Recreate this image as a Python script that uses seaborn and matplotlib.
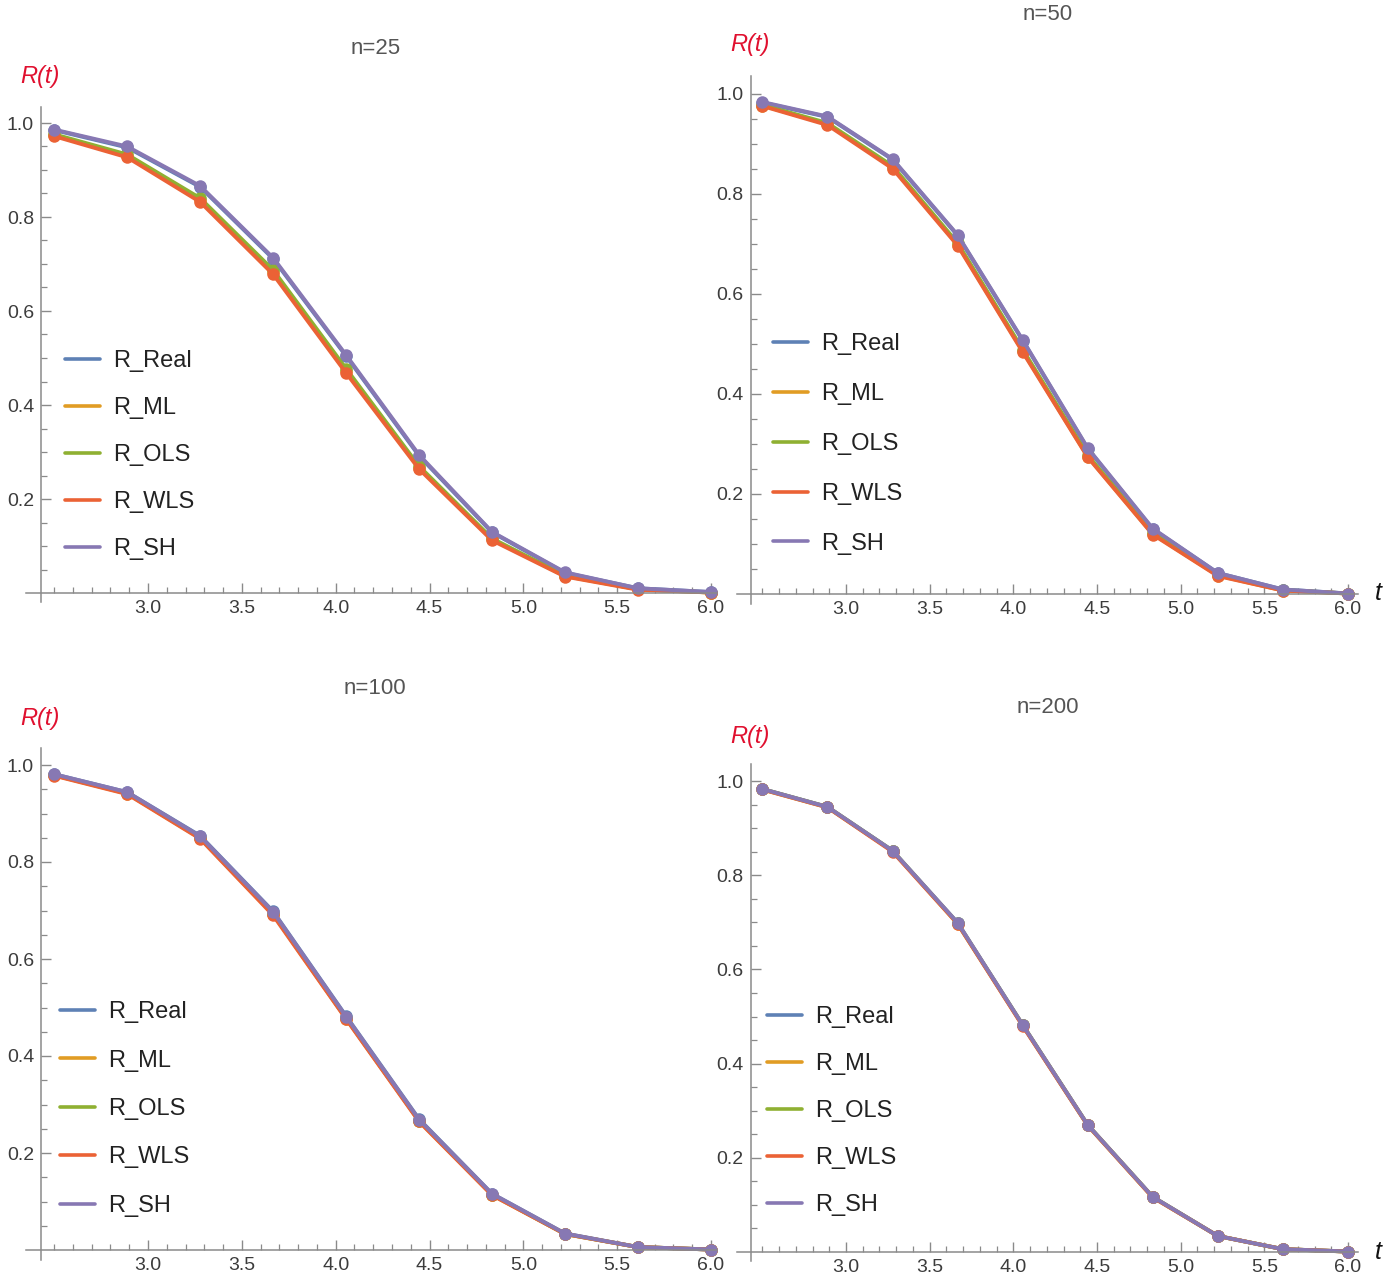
import matplotlib
matplotlib.use("Agg")
import numpy as np
import pandas as pd
import seaborn as sns
import matplotlib.pyplot as plt
from matplotlib.lines import Line2D
from matplotlib.ticker import FixedLocator

# ---------------- data ----------------
t_values = [2.5, 2.889, 3.278, 3.667, 4.056, 4.444, 4.833, 5.222, 5.611, 6.0]
series_names = ["R_Real", "R_ML", "R_OLS", "R_WLS", "R_SH"]
panel_titles = ["n=25", "n=50", "n=100", "n=200"]

real25 = [0.985, 0.948, 0.864, 0.711, 0.504, 0.292, 0.129, 0.043, 0.010, 0.002]
ml25   = [0.974, 0.930, 0.836, 0.683, 0.473, 0.267, 0.114, 0.036, 0.008, 0.001]
ols25  = [0.976, 0.933, 0.840, 0.687, 0.477, 0.270, 0.116, 0.037, 0.008, 0.001]
wls25  = [0.972, 0.927, 0.832, 0.678, 0.468, 0.264, 0.112, 0.035, 0.007, 0.001]
sh25   = [0.986, 0.950, 0.866, 0.713, 0.506, 0.294, 0.130, 0.044, 0.010, 0.002]

real50 = [0.983, 0.954, 0.869, 0.717, 0.507, 0.291, 0.130, 0.042, 0.009, 0.001]
ml50   = [0.977, 0.940, 0.853, 0.699, 0.486, 0.275, 0.120, 0.037, 0.007, 0.001]
ols50  = [0.978, 0.942, 0.856, 0.702, 0.489, 0.278, 0.122, 0.038, 0.008, 0.001]
wls50  = [0.976, 0.938, 0.851, 0.697, 0.484, 0.274, 0.119, 0.036, 0.007, 0.001]
sh50   = [0.984, 0.955, 0.870, 0.718, 0.508, 0.292, 0.131, 0.042, 0.009, 0.001]

real100 = [0.981, 0.944, 0.854, 0.698, 0.482, 0.270, 0.116, 0.034, 0.006, 0.001]
ml100   = [0.979, 0.941, 0.849, 0.692, 0.477, 0.266, 0.114, 0.033, 0.006, 0.001]
ols100  = [0.979, 0.942, 0.850, 0.693, 0.478, 0.267, 0.114, 0.033, 0.006, 0.001]
wls100  = [0.978, 0.940, 0.848, 0.690, 0.476, 0.265, 0.113, 0.033, 0.006, 0.001]
sh100   = [0.981, 0.944, 0.853, 0.697, 0.481, 0.269, 0.116, 0.034, 0.006, 0.001]

real200 = [0.983, 0.945, 0.852, 0.699, 0.482, 0.270, 0.117, 0.034, 0.006, 0.001]
ml200   = [0.982, 0.944, 0.851, 0.697, 0.481, 0.269, 0.116, 0.034, 0.006, 0.001]
ols200  = [0.983, 0.945, 0.852, 0.698, 0.482, 0.270, 0.117, 0.034, 0.006, 0.001]
wls200  = [0.982, 0.944, 0.850, 0.697, 0.480, 0.269, 0.116, 0.034, 0.006, 0.001]
sh200   = [0.983, 0.945, 0.852, 0.699, 0.482, 0.270, 0.117, 0.034, 0.006, 0.001]

panel_data = [
    [real25, ml25, ols25, wls25, sh25],
    [real50, ml50, ols50, wls50, sh50],
    [real100, ml100, ols100, wls100, sh100],
    [real200, ml200, ols200, wls200, sh200],
]

x_major = [3.0, 3.5, 4.0, 4.5, 5.0, 5.5, 6.0]
y_major = [0.2, 0.4, 0.6, 0.8, 1.0]

# ---------------- style ----------------
palette = {"R_Real": "#5E81B5", "R_ML": "#E19C24", "R_OLS": "#8FB032",
           "R_WLS": "#EB6235", "R_SH": "#8778B3"}

sns.set_theme(style="white")
plt.rcParams["font.family"] = ["Liberation Sans", "DejaVu Sans"]

W, H = 1391, 1283
fig = plt.figure(figsize=(W / 100, H / 100), dpi=100)

# layout: pixel anchors (x of t=3.0, x of t=6.0, y of R=0, y of R=1)
layouts = [
    dict(x3=148, x6=711, y0=593, y1=123, xlim=(2.35, 6.03), ylim=(-0.02, 1.035),
         title=(376, 48), rt=(40, 77), leg=(65, 455), pitch=1.06, t_lab=None),
    dict(x3=846, x6=1348, y0=594, y1=94, xlim=(2.35, 6.06), ylim=(-0.02, 1.036),
         title=(1048, 14), rt=(750, 45), leg=(773, 444), pitch=1.18, t_lab=(1378, 593)),
    dict(x3=148, x6=711, y0=1250, y1=765, xlim=(2.35, 6.03), ylim=(-0.02, 1.035),
         title=(375, 688), rt=(40, 718), leg=(60, 1109), pitch=1.12, t_lab=None),
    dict(x3=846, x6=1348, y0=1252, y1=781, xlim=(2.35, 6.06), ylim=(-0.02, 1.036),
         title=(1048, 707), rt=(750, 736), leg=(767, 1111), pitch=1.06, t_lab=(1378, 1252)),
]

axis_col = "#8a8a8a"
label_col = "#3c3c3c"

for i, (lay, vals) in enumerate(zip(layouts, panel_data)):
    sx = (lay["x6"] - lay["x3"]) / 3.0
    sy = (lay["y0"] - lay["y1"]) / 1.0
    left = lay["x3"] + (lay["xlim"][0] - 3.0) * sx
    right = lay["x3"] + (lay["xlim"][1] - 3.0) * sx
    top = lay["y0"] - lay["ylim"][1] * sy
    bottom = lay["y0"] - lay["ylim"][0] * sy
    ax = fig.add_axes([left / W, 1 - bottom / H, (right - left) / W, (bottom - top) / H])
    ax.patch.set_alpha(0)

    df = pd.DataFrame({
        "t": t_values * len(series_names),
        "R": [v for s in vals for v in s],
        "series": [n for n in series_names for _ in t_values],
    })
    sns.lineplot(data=df, x="t", y="R", hue="series", hue_order=series_names,
                 palette=palette, marker="o", markersize=9, markeredgewidth=0,
                 linewidth=2.8, estimator=None, sort=False, legend=False, ax=ax)
    for ln in ax.lines:
        ln.set_clip_on(False)
        ln.set_solid_joinstyle("round")

    ax.set_xlim(*lay["xlim"])
    ax.set_ylim(*lay["ylim"])
    ax.set_xlabel("")
    ax.set_ylabel("")

    for s in ["top", "right"]:
        ax.spines[s].set_visible(False)
    ax.spines["left"].set_position(("data", 2.43))
    ax.spines["bottom"].set_position(("data", 0.0))
    for s in ["left", "bottom"]:
        ax.spines[s].set_color(axis_col)
        ax.spines[s].set_linewidth(1.1)

    ax.xaxis.set_major_locator(FixedLocator(x_major))
    ax.xaxis.set_minor_locator(FixedLocator([round(2.5 + 0.1 * k, 2) for k in range(36)
                                             if round(2.5 + 0.1 * k, 2) not in x_major]))
    ax.yaxis.set_major_locator(FixedLocator(y_major))
    ax.yaxis.set_minor_locator(FixedLocator([0.05, 0.1, 0.15, 0.25, 0.3, 0.35, 0.45, 0.5,
                                             0.55, 0.65, 0.7, 0.75, 0.85, 0.9, 0.95]))
    ax.set_xticklabels([f"{v:.1f}" for v in x_major])
    ax.set_yticklabels([f"{v:.1f}" for v in y_major])
    ax.tick_params(axis="both", which="both", bottom=True, left=True, top=False, right=False)
    ax.tick_params(axis="both", which="major", direction="in", length=7, width=1.0,
                   color=axis_col, labelsize=14, labelcolor=label_col, pad=5)
    ax.tick_params(axis="both", which="minor", direction="in", length=4, width=0.9,
                   color=axis_col)
    ax.grid(False)

    # title, axis labels
    fig.text(lay["title"][0] / W, 1 - lay["title"][1] / H, panel_titles[i],
             ha="center", va="center", fontsize=16, color="#555555")
    fig.text(lay["rt"][0] / W, 1 - lay["rt"][1] / H, "R(t)", ha="center", va="center",
             fontsize=17, color="#e0102f", style="italic")
    if lay["t_lab"] is not None:
        fig.text(lay["t_lab"][0] / W, 1 - lay["t_lab"][1] / H, "t", ha="center",
                 va="center", fontsize=18, color="#111111", style="italic")

    handles = [Line2D([0], [0], color=palette[n], lw=2.6) for n in series_names]
    leg = ax.legend(handles, series_names, loc="center left",
                    bbox_to_anchor=(lay["leg"][0] / W, 1 - lay["leg"][1] / H),
                    bbox_transform=fig.transFigure, frameon=False, fontsize=17,
                    handlelength=1.5, handletextpad=0.55, labelspacing=lay["pitch"],
                    borderpad=0, borderaxespad=0)
    for tx in leg.get_texts():
        tx.set_color("#222222")

fig.savefig("out.png", dpi=100, facecolor="white")
